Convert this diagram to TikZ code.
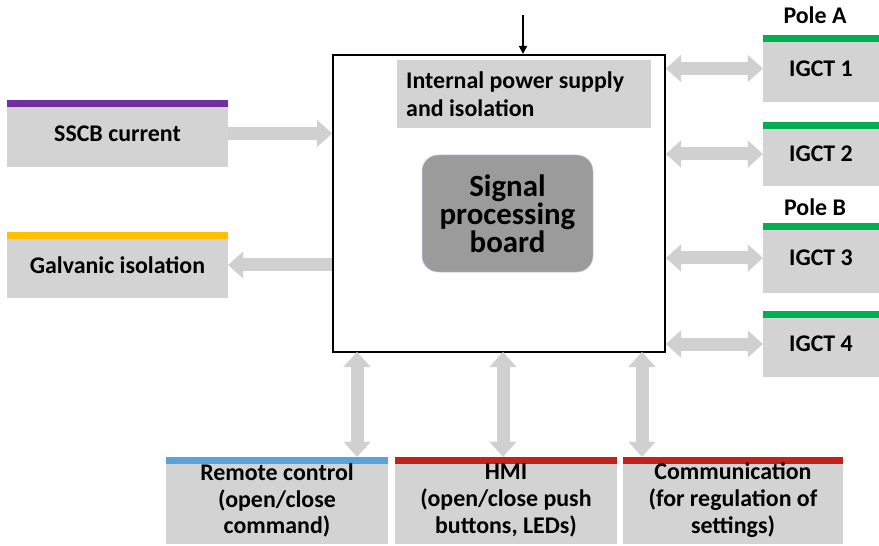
\documentclass[tikz,border=0pt]{standalone}
\usepackage{fontspec}
\setmainfont{Carlito}
\usetikzlibrary{arrows.meta,positioning}

\definecolor{boxgray}{HTML}{D3D3D3}
\definecolor{arrowgray}{HTML}{D0D0D0}
\definecolor{coregray}{HTML}{9B9B9B}
\definecolor{barpurple}{HTML}{7030A0}
\definecolor{baryellow}{HTML}{FFC000}
\definecolor{bargreen}{HTML}{00B050}
\definecolor{barblue}{HTML}{5BA3D6}
\definecolor{barred}{HTML}{C0231B}

\begin{document}
\begin{tikzpicture}[
        x=1bp, y=-1bp,
        unit/.style={
            fill=boxgray,
            inner sep=0pt,
            align=center,
            font=\bfseries\fontsize{24}{27}\selectfont,
            minimum width=221bp,
            minimum height=67bp
        },
        topbar/.style={
            path picture={\fill[#1] (path picture bounding box.north west) rectangle ([yshift=-7bp]path picture bounding box.north east);}
        },
        fat/.style={
            draw=arrowgray,
            line width=13bp,
            -{Triangle[length=15bp,width=27bp,line width=0.1bp]}
        },
        fatboth/.style={
            draw=arrowgray,
            line width=13bp,
            {Triangle[length=15bp,width=27bp,line width=0.1bp]}-{Triangle[length=15bp,width=27bp,line width=0.1bp]}
        },
        pole/.style={font=\bfseries\fontsize{24}{27}\selectfont, inner sep=0pt}
    ]
        \useasboundingbox (0,0) rectangle (879,546);

        % processing board
        \node[draw=black, line width=2bp, minimum width=332bp, minimum height=297bp] (board) at (499,203.5) {};
        \node[fill=boxgray, inner sep=0pt, minimum width=254bp, minimum height=68bp] (supply) at (524,94) {};
        \node[anchor=west, align=left, inner sep=0pt, font=\bfseries\fontsize{24}{28}\selectfont] (supplytxt) at (406,94) {Internal power supply\\and isolation};
        \node[fill=coregray, draw=black!25!blue!20, line width=0.5bp, rounded corners=16bp, minimum width=171bp, minimum height=117bp, align=center, inner sep=0pt, font=\bfseries\fontsize{31}{26}\selectfont] (core) at (507.5,213.5) {Signal\\processing\\board};

        % left side
        \node[unit, topbar=barpurple] (sscb) at (117.5,133.5) {SSCB current};
        \node[unit, topbar=baryellow, minimum height=66bp] (galv) at (117.5,265) {Galvanic isolation};

        % IGCT units
        \node[unit, topbar=bargreen, minimum width=116bp] (igct1) at (821,68.5) {IGCT 1};
        \node[unit, topbar=bargreen, minimum width=116bp, minimum height=64bp] (igct2) at (821,154) {IGCT 2};
        \node[unit, topbar=bargreen, minimum width=116bp, minimum height=70bp] (igct3) at (821,258) {IGCT 3};
        \node[unit, topbar=bargreen, minimum width=116bp, minimum height=66bp] (igct4) at (821,344) {IGCT 4};
        \node[pole] (polea) at (815,15) {Pole A};
        \node[pole] (poleb) at (815,207) {Pole B};

        % bottom units
        \node[unit, topbar=barblue, minimum width=222bp, minimum height=87bp] (remote) at (277,500.5) {Remote control\\(open/close\\command)};
        \node[unit, topbar=barred, minimum width=222bp, minimum height=87bp] (hmi) at (506,500.5) {HMI\\(open/close push\\buttons, LEDs)};
        \node[unit, topbar=barred, minimum width=220bp, minimum height=87bp] (comm) at (733,500.5) {Communication\\(for regulation of\\settings)};

        % links
        \coordinate (pwr) at (523,15);
        \coordinate (rc) at (357,352);
        \coordinate (hm) at (503,352);
        \coordinate (cm) at (642,352);

        \draw[line width=1.6bp, -{Triangle[length=8bp,width=8bp]}] (pwr) -- (pwr |- board.north);
        \draw[fat] (sscb.east) -- (sscb.east -| board.west);
        \draw[fat] (galv.east -| board.west) -- (galv.east);
        \draw[fatboth] (igct1.west -| board.east) -- (igct1.west);
        \draw[fatboth] (igct2.west -| board.east) -- (igct2.west);
        \draw[fatboth] (igct3.west -| board.east) -- (igct3.west);
        \draw[fatboth] (igct4.west -| board.east) -- (igct4.west);
        \draw[fatboth] (rc) -- (rc |- remote.north);
        \draw[fatboth] (hm) -- (hm |- hmi.north);
        \draw[fatboth] (cm) -- (cm |- comm.north);
    \end{tikzpicture}
\end{document}
